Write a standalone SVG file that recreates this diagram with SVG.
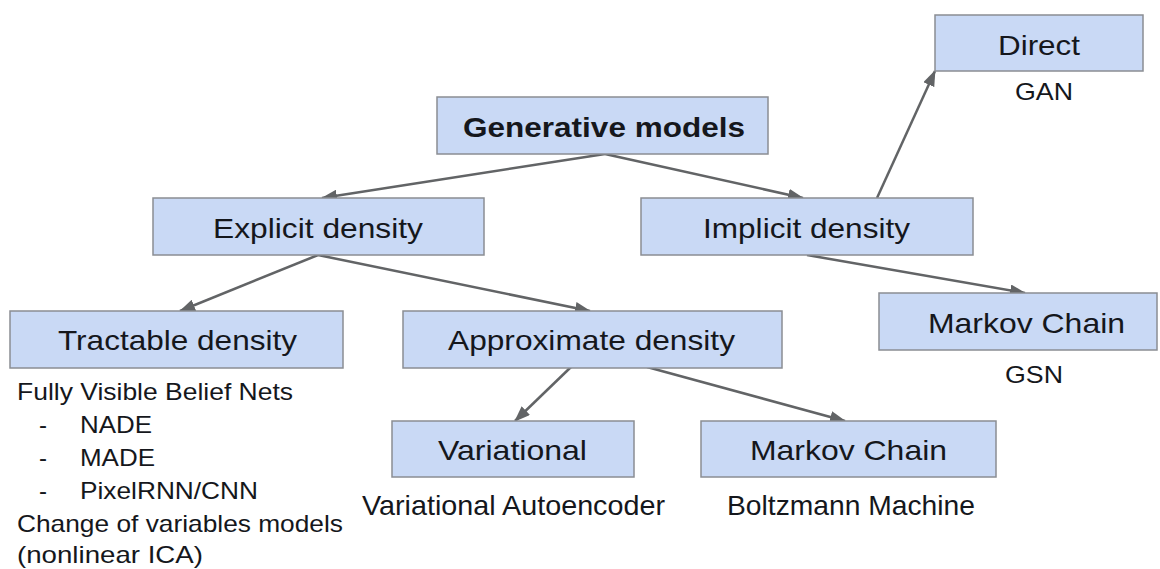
<svg xmlns="http://www.w3.org/2000/svg" width="1160" height="569" viewBox="0 0 1160 569">
<style>
.box{fill:#c9d9f5;stroke:#8a8d93;stroke-width:1.5}
.lbl{font-family:"Liberation Sans",Arial,sans-serif;font-size:28px;fill:#15171c}
.sub{font-family:"Liberation Sans",Arial,sans-serif;font-size:24px;fill:#15171c}
.bold{font-weight:bold}
.edge{stroke:#626466;stroke-width:2.5;fill:none;marker-end:url(#ah)}
</style>
<defs>
<marker id="ah" markerUnits="userSpaceOnUse" markerWidth="16" markerHeight="12" refX="15" refY="6" orient="auto">
<path d="M0,0 L16,6 L0,12 z" fill="#626466"/>
</marker>
</defs>
<rect width="1160" height="569" fill="#ffffff"/>
<g id="connectors">
<line class="edge" x1="605" y1="154" x2="322" y2="198"/>
<line class="edge" x1="605" y1="154" x2="803" y2="198"/>
<line class="edge" x1="318" y1="255" x2="180" y2="311"/>
<line class="edge" x1="318" y1="255" x2="590" y2="311"/>
<line class="edge" x1="877" y1="198" x2="935" y2="71"/>
<line class="edge" x1="807" y1="255" x2="1025" y2="293"/>
<line class="edge" x1="571" y1="367" x2="515" y2="421"/>
<line class="edge" x1="647" y1="367" x2="845" y2="421"/>
</g>
<g id="generative">
<rect class="box" x="437" y="97" width="331" height="57"/>
<text class="lbl bold" x="463" y="137" textLength="282" lengthAdjust="spacingAndGlyphs">Generative models</text>
</g>
<g id="explicit">
<rect class="box" x="153" y="198" width="331" height="57"/>
<text class="lbl" x="213" y="238" textLength="210" lengthAdjust="spacingAndGlyphs">Explicit density</text>
</g>
<g id="implicit">
<rect class="box" x="641" y="198" width="332" height="57"/>
<text class="lbl" x="703" y="238" textLength="207" lengthAdjust="spacingAndGlyphs">Implicit density</text>
</g>
<g id="direct">
<rect class="box" x="935" y="15" width="208" height="56"/>
<text class="lbl" x="998" y="55" textLength="82" lengthAdjust="spacingAndGlyphs">Direct</text>
<text class="sub" x="1015" y="100" textLength="58" lengthAdjust="spacingAndGlyphs">GAN</text>
</g>
<g id="tractable">
<rect class="box" x="10" y="311" width="333" height="57"/>
<text class="lbl" x="58" y="350" textLength="239" lengthAdjust="spacingAndGlyphs">Tractable density</text>
<text class="sub" x="17" y="400" textLength="276" lengthAdjust="spacingAndGlyphs">Fully Visible Belief Nets</text>
<text class="sub" x="39" y="433">-</text>
<text class="sub" x="80" y="433" textLength="72" lengthAdjust="spacingAndGlyphs">NADE</text>
<text class="sub" x="39" y="466">-</text>
<text class="sub" x="80" y="466" textLength="75" lengthAdjust="spacingAndGlyphs">MADE</text>
<text class="sub" x="39" y="499">-</text>
<text class="sub" x="80" y="499" textLength="178" lengthAdjust="spacingAndGlyphs">PixelRNN/CNN</text>
<text class="sub" x="17" y="532" textLength="326" lengthAdjust="spacingAndGlyphs">Change of variables models</text>
<text class="sub" x="17" y="563" textLength="186" lengthAdjust="spacingAndGlyphs">(nonlinear ICA)</text>
</g>
<g id="approximate">
<rect class="box" x="403" y="311" width="379" height="57"/>
<text class="lbl" x="448" y="350" textLength="287" lengthAdjust="spacingAndGlyphs">Approximate density</text>
</g>
<g id="markov-implicit">
<rect class="box" x="879" y="293" width="278" height="57"/>
<text class="lbl" x="928" y="333" textLength="197" lengthAdjust="spacingAndGlyphs">Markov Chain</text>
<text class="sub" x="1005" y="383" textLength="58" lengthAdjust="spacingAndGlyphs">GSN</text>
</g>
<g id="variational">
<rect class="box" x="392" y="421" width="242" height="56"/>
<text class="lbl" x="438" y="460" textLength="149" lengthAdjust="spacingAndGlyphs">Variational</text>
<text class="lbl" x="362" y="515" textLength="303" lengthAdjust="spacingAndGlyphs">Variational Autoencoder</text>
</g>
<g id="markov-approx">
<rect class="box" x="701" y="421" width="295" height="56"/>
<text class="lbl" x="750" y="460" textLength="197" lengthAdjust="spacingAndGlyphs">Markov Chain</text>
<text class="lbl" x="727" y="515" textLength="248" lengthAdjust="spacingAndGlyphs">Boltzmann Machine</text>
</g>
</svg>
